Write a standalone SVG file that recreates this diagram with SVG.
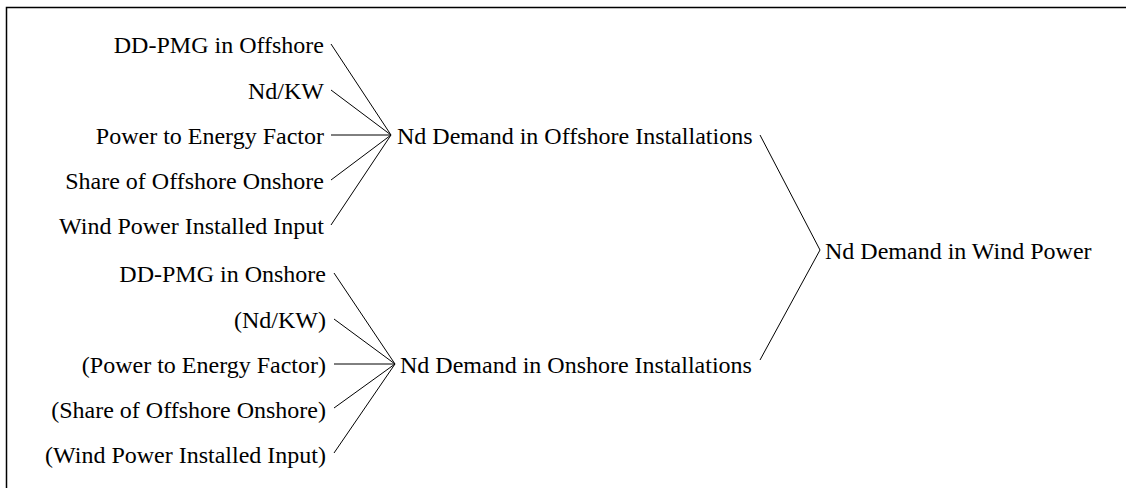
<svg xmlns="http://www.w3.org/2000/svg" width="1126" height="488" viewBox="0 0 1126 488">
<style>
text{font-family:"Liberation Serif","Times New Roman",serif;font-size:24px;fill:#000}
.in{text-anchor:end}
#connectors line{stroke:#000;stroke-width:1;fill:none}
</style>
<rect width="1126" height="488" fill="#fff"/>
<path d="M6.5,488 V7.5 H1126" fill="none" stroke="#000" stroke-width="1.5"/>
<g id="connectors">
<line x1="331" y1="44" x2="391" y2="135"/>
<line x1="331" y1="90" x2="391" y2="135"/>
<line x1="331" y1="135" x2="391" y2="135"/>
<line x1="331" y1="180" x2="391" y2="135"/>
<line x1="331" y1="225" x2="391" y2="135"/>
<line x1="334" y1="273" x2="395" y2="364"/>
<line x1="334" y1="319" x2="395" y2="364"/>
<line x1="334" y1="364" x2="395" y2="364"/>
<line x1="334" y1="408" x2="395" y2="364"/>
<line x1="334" y1="453" x2="395" y2="364"/>
<line x1="760" y1="135" x2="820" y2="250"/>
<line x1="760" y1="360" x2="820" y2="250"/>
</g>
<g id="n_ddpmg_off"><text class="in" x="324" y="53">DD-PMG in Offshore</text></g>
<g id="n_ndkw_off"><text class="in" x="324" y="99">Nd/KW</text></g>
<g id="n_pef_off"><text class="in" x="324" y="144">Power to Energy Factor</text></g>
<g id="n_share_off"><text class="in" x="324" y="189">Share of Offshore Onshore</text></g>
<g id="n_wind_off"><text class="in" x="324" y="234">Wind Power Installed Input</text></g>
<g id="n_ddpmg_on"><text class="in" x="326" y="282">DD-PMG in Onshore</text></g>
<g id="n_ndkw_on"><text class="in" x="326" y="328">(Nd/KW)</text></g>
<g id="n_pef_on"><text class="in" x="326" y="373">(Power to Energy Factor)</text></g>
<g id="n_share_on"><text class="in" x="326" y="418">(Share of Offshore Onshore)</text></g>
<g id="n_wind_on"><text class="in" x="326" y="463">(Wind Power Installed Input)</text></g>
<g id="n_offshore"><text x="397" y="144">Nd Demand in Offshore Installations</text></g>
<g id="n_onshore"><text x="400" y="373">Nd Demand in Onshore Installations</text></g>
<g id="n_wind"><text x="825" y="259">Nd Demand in Wind Power</text></g>
</svg>
